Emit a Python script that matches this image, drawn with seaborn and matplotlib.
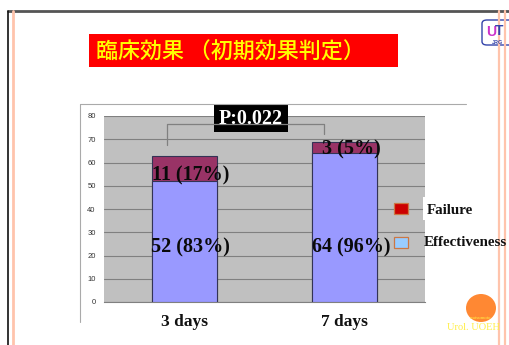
import matplotlib
matplotlib.use("Agg")
import matplotlib.pyplot as plt
import seaborn as sns
import pandas as pd
from matplotlib.patches import Rectangle, Ellipse, FancyBboxPatch
from matplotlib.lines import Line2D

# ---- data ----
categories = ["3 days", "7 days"]
effectiveness = [52, 64]
failure = [11, 5]          # drawn heights
labels_eff = ["52 (83%)", "64 (96%)"]
labels_fail = ["11 (17%)", "3 (5%)"]
legend_labels = ["Failure", "Effectiveness"]
title_text = "臨床効果 （初期効果判定）"
p_text = "P:0.022"
yticks = [0, 10, 20, 30, 40, 50, 60, 70, 80]

W, H = 510, 345
sns.set_theme(style="white")
plt.rcParams['font.family'] = ['Liberation Serif', 'DejaVu Sans']

fig = plt.figure(figsize=(W / 100, H / 100), dpi=100)
fig.patch.set_facecolor("white")

def fx(x):
    return x / W

def fy(y):
    return 1 - y / H

# axes: plot area 104..425 x, 116..302 y
ax = fig.add_axes([fx(104), fy(302), fx(425) - fx(104), fy(116) - fy(302)])
ax.set_facecolor("#C0C0C0")

df = pd.DataFrame({
    "cat": categories,
    "total": [e + f for e, f in zip(effectiveness, failure)],
    "eff": effectiveness,
})
sns.barplot(data=df, x="cat", y="total", color="#993366", width=0.405,
            edgecolor="#333355", linewidth=0.8, saturation=1, ax=ax, zorder=3)
sns.barplot(data=df, x="cat", y="eff", color="#9999FF", width=0.405,
            edgecolor="#333355", linewidth=0.8, saturation=1, ax=ax, zorder=4)

ax.set_xlim(-0.5, 1.5)
ax.set_ylim(0, 80)
ax.set_yticks(yticks)
ax.set_yticklabels([str(t) for t in yticks], fontsize=5.5, color="#333333",
                   family="Liberation Sans")
ax.yaxis.grid(True, color="#808080", linewidth=0.8, zorder=0)
ax.set_axisbelow(True)
ax.tick_params(axis="y", length=0, pad=6)
ax.tick_params(axis="x", length=0, pad=9)
ax.set_xticks([0, 1])
ax.set_xticklabels(categories, fontsize=12.5, fontweight="bold", color="#111111")
ax.set_xlabel("")
ax.set_ylabel("")
for s in ["top", "right", "left"]:
    ax.spines[s].set_visible(False)
ax.spines["bottom"].set_color("#808080")
ax.spines["bottom"].set_linewidth(0.8)

# data labels
fail_label_y = [54.5, 65.5]
eff_label_y = [23.5, 23.5]
for i in range(len(categories)):
    ax.text(i + 0.04, fail_label_y[i], labels_fail[i], ha="center", va="center",
            fontsize=14.5, fontweight="bold", color="#0a0a0a", zorder=6)
    ax.text(i + 0.04, eff_label_y[i], labels_eff[i], ha="center", va="center",
            fontsize=14.5, fontweight="bold", color="#0a0a0a", zorder=6)

# ---- slide decorations ----
def fig_line(xs, ys, **kw):
    fig.add_artist(Line2D([fx(x) for x in xs], [fy(y) for y in ys],
                          transform=fig.transFigure, **kw))

fig_line([8, 510], [11, 11], color="#555555", linewidth=2.0)
fig_line([8, 8], [11, 345], color="#111111", linewidth=1.2)
fig_line([13, 13], [11, 345], color="#FFC4AC", linewidth=2.0)
fig_line([499.5, 499.5], [11, 345], color="#FFC4AC", linewidth=1.6)
fig_line([505.5, 505.5], [11, 345], color="#FFC4AC", linewidth=1.6)

# chart area border
fig_line([80, 80], [104, 322], color="#AAAAAA", linewidth=0.8)
fig_line([80, 466], [104, 104], color="#AAAAAA", linewidth=0.8)

# title box
fig.add_artist(Rectangle((fx(89), fy(67)), fx(398) - fx(89), fy(34) - fy(67),
                         transform=fig.transFigure, facecolor="#FF0000",
                         edgecolor="none"))
fig.text(fx(96), fy(52), title_text, ha="left", va="center", fontsize=15.8,
         fontweight="medium", color="#FFFF00",
         family=["Noto Sans CJK JP", "DejaVu Sans"])

# logo
fig.add_artist(FancyBboxPatch((fx(482), fy(45)), fx(40), fy(20) - fy(45),
                              boxstyle="round,pad=0,rounding_size=0.01",
                              transform=fig.transFigure, facecolor="white",
                              edgecolor="#3344AA", linewidth=1.0))
fig.text(fx(486), fy(32), "U", ha="left", va="center", fontsize=10,
         fontweight="bold", color="#CC33CC", family="Liberation Sans")
fig.text(fx(495), fy(31), "T", ha="left", va="center", fontsize=10,
         fontweight="bold", color="#3344AA", family="Liberation Sans")
fig.text(fx(492), fy(42), "JRG", ha="left", va="center", fontsize=4,
         fontweight="bold", color="#3344AA", family="Liberation Sans")

# bracket and p-value
fig_line([167, 167, 324, 324], [145, 124, 124, 134], color="#808080",
         linewidth=0.9)
fig.add_artist(Rectangle((fx(214), fy(132)), fx(288) - fx(214), fy(104) - fy(132),
                         transform=fig.transFigure, facecolor="black",
                         edgecolor="none"))
fig.text(fx(251), fy(119), p_text, ha="center", va="center", fontsize=14.5,
         fontweight="bold", color="white")

# legend
leg_colors = ["#CC0000", "#99CCFF"]
leg_y = [208.5, 242.5]
for c, yy, lab in zip(leg_colors, leg_y, legend_labels):
    fig.add_artist(Rectangle((fx(394), fy(yy + 5.5)), fx(14), fy(0) - fy(11),
                             transform=fig.transFigure, facecolor=c,
                             edgecolor="#CC7744", linewidth=0.9))
fig.add_artist(Rectangle((fx(423), fy(220)), fx(45), fy(197) - fy(220),
                         transform=fig.transFigure, facecolor="white",
                         edgecolor="none"))
fig.text(fx(427), fy(210), legend_labels[0], ha="left", va="center",
         fontsize=10.8, fontweight="bold", color="#111111")
fig.text(fx(424), fy(242), legend_labels[1], ha="left", va="center",
         fontsize=10.8, fontweight="bold", color="#111111")

# orange circle and credit
fig.add_artist(Ellipse((fx(481), fy(308)), fx(30), fy(0) - fy(28),
                       transform=fig.transFigure, facecolor="#FF8833",
                       edgecolor="none"))
fig.text(fx(481), fy(318), "matsumoto", ha="center", va="center", fontsize=3.5,
         color="#FFEE44")
fig.text(fx(473), fy(328), "Urol. UOEH", ha="center", va="center", fontsize=7.5,
         color="#FFEE44")

fig.savefig("out.png", dpi=100)
